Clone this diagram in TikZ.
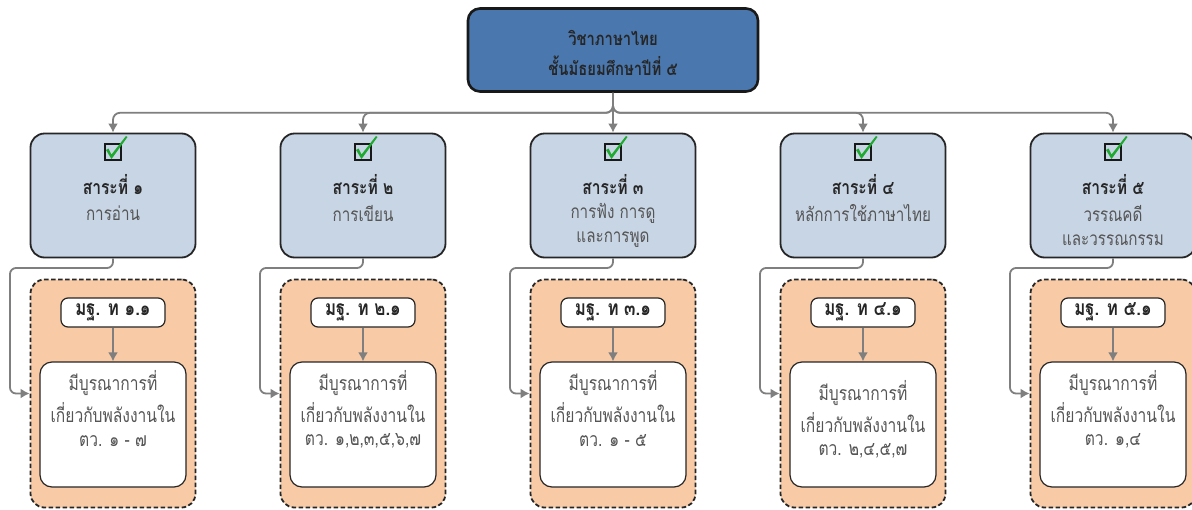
\documentclass[tikz,border=0pt]{standalone}
\usepackage{fontspec}
\newfontfamily\thaifont[Script=Thai, FakeStretch=0.8]{Loma}
\usetikzlibrary{arrows.meta,calc}
\definecolor{topblue}{HTML}{4A78AE}
\definecolor{sarafill}{HTML}{C8D5E5}
\definecolor{orangefill}{HTML}{F8CBA6}
\definecolor{conngray}{HTML}{7F7F7F}
\definecolor{txtdark}{HTML}{262626}
\definecolor{txtgray}{HTML}{555555}
\definecolor{checkgreen}{HTML}{1FAA2F}
\begin{document}
\begin{tikzpicture}[x=1pt,y=-1pt, font=\thaifont,
 topbox/.style={draw=black!90, line width=2.6pt, fill=topblue, rounded corners=12pt, minimum width=290pt, minimum height=83pt, inner sep=0pt},
 sarabox/.style={draw=black!85, line width=1.8pt, fill=sarafill, rounded corners=14pt, minimum width=165pt, minimum height=124pt, inner sep=0pt},
 stdgroup/.style={draw=black!85, line width=1.8pt, dash pattern=on 4.5pt off 2.5pt, fill=orangefill, rounded corners=14pt, minimum width=165pt, minimum height=228pt, inner sep=0pt},
 stdbox/.style={draw=black!85, line width=1.2pt, fill=white, rounded corners=7pt, minimum width=104pt, minimum height=29pt, inner sep=0pt},
 descbox/.style={draw=black!85, line width=1.2pt, fill=white, rounded corners=12pt, minimum width=146pt, minimum height=125pt, inner sep=0pt},
 checksq/.style={draw=black!90, line width=2.4pt, minimum size=16pt, inner sep=0pt},
 conn/.style={draw=conngray, line width=1.8pt, rounded corners=7pt, -{Latex[length=9pt,width=10pt]}},
 toptext/.style={text=txtdark, font=\thaifont\bfseries\fontsize{18.5}{22}\selectfont, inner sep=0pt},
 titletext/.style={text=txtdark, font=\thaifont\bfseries\fontsize{19.5}{24}\selectfont, inner sep=0pt},
 subtext/.style={text=txtgray, font=\thaifont\fontsize{19}{24}\selectfont, inner sep=0pt},
 stdtext/.style={text=txtdark, font=\thaifont\bfseries\fontsize{21}{24}\selectfont, inner sep=0pt},
 desctext/.style={text=txtgray, font=\thaifont\fontsize{19.5}{24}\selectfont, inner sep=0pt},
]
\useasboundingbox (0,0) rectangle (1192,509);
\fill[white] (0,0) rectangle (1192,509);

% top box
\node[topbox] (top) at (613,50) {};
\node[toptext] (top1) at (613,38) {วิชาภาษาไทย};
\node[toptext] (top2) at (613,66) {ชั้นมัธยมศึกษาปีที่ ๕};

% columns
\foreach \i/\tit/\subA/\subB/\std/\tv/\dy in {
 1/๑/การอ่าน//๑.๑/๑ - ๗/0,
 2/๒/การเขียน//๒.๑/{๑,๒,๓,๕,๖,๗}/0,
 3/๓/การฟัง การดู/และการพูด/๓.๑/๑ - ๕/0,
 4/๔/หลักการใช้ภาษาไทย//๔.๑/{๒,๔,๕,๗}/10,
 5/๕/วรรณคดี/และวรรณกรรม/๕.๑/{๑,๔}/0}{
  \pgfmathsetmacro{\cx}{113+250*(\i-1)}
  \node[sarabox] (s\i) at (\cx,195.5) {};
  \node[checksq] (cb\i) at (\cx,152) {};
  \fill[checkgreen] ($(cb\i.center)+(-7,-2)$) -- ($(cb\i.center)+(-4.5,-3.5)$) -- ($(cb\i.center)+(-1.5,2.5)$)
     -- ($(cb\i.center)+(13,-16)$) -- ($(cb\i.center)+(14.5,-15)$) -- ($(cb\i.center)+(-1.5,7)$) -- cycle;
  \node[titletext] (st\i) at (\cx,185) {สาระที่ \tit};
  \node[subtext] (sa\i) at (\cx,213) {\subA};
  \node[subtext] (sb\i) at (\cx,240) {\subB};
  \node[stdgroup] (g\i) at (\cx,393.5) {};
  \node[stdbox] (m\i) at (\cx,312.5) {};
  \node[stdtext] (mt\i) at (\cx,312) {มฐ. ท \std};
  \node[descbox] (d\i) at (\cx,424.5) {};
  \node[desctext] (da\i) at (\cx,383+\dy) {มีบูรณาการที่};
  \node[desctext] (db\i) at (\cx,413+\dy) {เกี่ยวกับพลังงานใน};
  \node[desctext] (dc\i) at (\cx,441+\dy) {ตว. \tv};
  \draw[conn] (m\i.south) -- (d\i.north);
  \coordinate (k\i) at (\cx-103,268);
  \draw[conn, rounded corners=6pt] (s\i.south) |- (k\i) |- (g\i.west);
}

% connectors from top
\draw[conn] (top.south) -- ++(0,20) -| (s1.north);
\draw[conn] (top.south) -- ++(0,20) -| (s2.north);
\draw[conn] (top.south) -- ++(0,20) -| (s4.north);
\draw[conn] (top.south) -- ++(0,20) -| (s5.north);
\draw[conn] (top.south) -- (s3.north);
\end{tikzpicture}
\end{document}
